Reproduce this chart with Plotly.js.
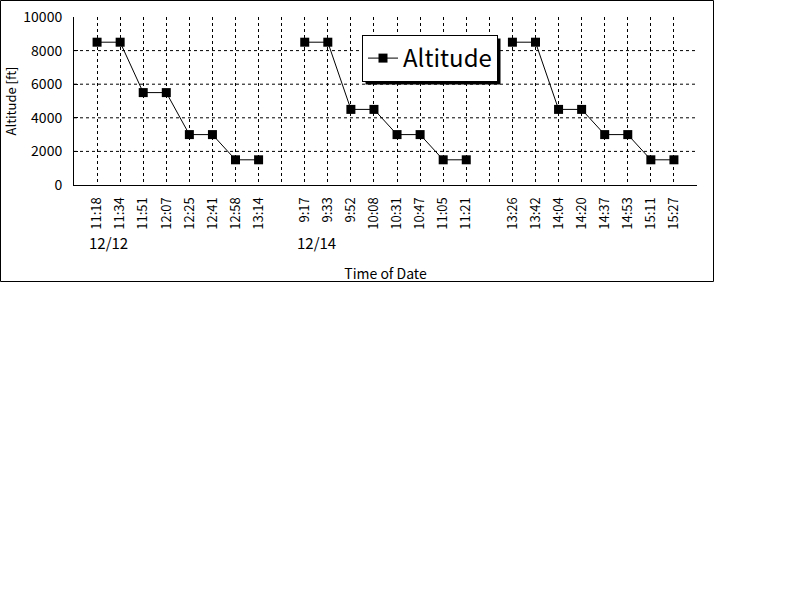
<!DOCTYPE html>
<html>
<head>
<meta charset="utf-8">
<script src="https://cdn.plot.ly/plotly-3.0.1.min.js"></script>
<style>
html,body{margin:0;padding:0;background:#fff;}
#chart{width:800px;height:600px;}
</style>
</head>
<body>
<div id="chart"></div>
<script>
// Category labels (empty strings are the gaps between flight groups)
var timeLabels = ["11:18","11:34","11:51","12:07","12:25","12:41","12:58","13:14","",
                  "9:17","9:33","9:52","10:08","10:31","10:47","11:05","11:21","",
                  "13:26","13:42","14:04","14:20","14:37","14:53","15:11","15:27"];
// Altitude [ft]; null = gap
var altitude = [8500,8500,5500,5500,3000,3000,1500,1500,null,
                8500,8500,4500,4500,3000,3000,1500,1500,null,
                8500,8500,4500,4500,3000,3000,1500,1500];
var dateLabels = ["12/12","12/14"];
var dateStartIndex = [0, 9];
var yTicks = [0,2000,4000,6000,8000,10000];
var yTickText = ["0","2000","4000","6000","8000","10000"];
var yGrid = [2000,4000,6000,8000];

var idx = timeLabels.map(function(_, i){ return i; });

var font = "'MS PGothic','Noto Sans CJK JP','DejaVu Sans',sans-serif";

// plot area geometry (pixels)
var L = 74, R = 697, T = 17, B = 185, W = 800, H = 600;
var pw = R - L, ph = B - T;
function px2x(p){ return (p - L) / pw; }
function px2y(p){ return (B - p) / ph; }

var shapes = [];
// outer chart border
shapes.push({type:'rect', xref:'paper', yref:'paper',
  x0:px2x(0.5), x1:px2x(713.5), y0:px2y(281.5), y1:px2y(0.5),
  line:{color:'#000', width:1}, fillcolor:'rgba(0,0,0,0)', layer:'below'});
// horizontal dashed gridlines
yGrid.forEach(function(v){
  shapes.push({type:'line', xref:'paper', yref:'y', x0:0, x1:1, y0:v, y1:v,
    line:{color:'#000', width:1, dash:'3px,3px'}, layer:'below'});
});

var annotations = dateLabels.map(function(d, k){
  return {text:d, x:dateStartIndex[k], xref:'x', y:px2y(242), yref:'paper',
    xanchor:'left', yanchor:'middle', xshift:-10, showarrow:false,
    font:{family:font, size:15, color:'#000'}};
});

var trace = {
  x: idx, y: altitude, type:'scatter', mode:'lines+markers', name:'Altitude',
  connectgaps:false,
  line:{color:'#000', width:1},
  marker:{symbol:'square', size:9, color:'#000'}
};

var layout = {
  width:W, height:H,
  margin:{l:L, r:W-R, t:T, b:H-B, pad:0},
  paper_bgcolor:'#fff', plot_bgcolor:'#fff',
  font:{family:font, size:13, color:'#000'},
  showlegend:true,
  legend:{x:px2x(362), y:px2y(35), xanchor:'left', yanchor:'top',
    bgcolor:'#fff', bordercolor:'#000', borderwidth:1, tracegroupgap:0,
    font:{family:font, size:24, color:'#000'}, itemwidth:30},
  xaxis:{range:[-1,26], tickmode:'array', tickvals:idx, ticktext:timeLabels,
    tickangle:-90, showgrid:true, gridcolor:'#000', gridwidth:1, griddash:'3px,3px',
    showline:true, linecolor:'#000', linewidth:1, zeroline:false, ticks:'',
    ticklabelstandoff:6, tickfont:{family:font, size:13, color:'#000'},
    title:{text:'Time of Date', font:{family:font, size:14, color:'#000'}, standoff:40},
    fixedrange:true},
  yaxis:{range:[0,10000], tickmode:'array', tickvals:yTicks, ticktext:yTickText,
    showgrid:false, showline:true, linecolor:'#000', linewidth:1, zeroline:false,
    ticks:'inside', ticklen:4, tickcolor:'#000',
    ticklabelstandoff:8, tickfont:{family:font, size:14, color:'#000'},
    title:{text:'Altitude [ft]', font:{family:font, size:13, color:'#000'}, standoff:3},
    fixedrange:true},
  shapes:shapes,
  annotations:annotations
};

Plotly.newPlot('chart', [trace], layout, {displayModeBar:false, staticPlot:true}).then(function(gd){
  // drop shadow behind the legend box, placed from the rendered legend size
  var bg = gd.querySelector('.legend .bg');
  var svgRect = gd.querySelector('.main-svg').getBoundingClientRect();
  if (bg) {
    var r = bg.getBoundingClientRect();
    var x0 = r.left - svgRect.left, y0 = r.top - svgRect.top;
    var x1 = x0 + r.width, y1 = y0 + r.height;
    var s = shapes.slice();
    s.push({type:'rect', xref:'paper', yref:'paper',
      x0:px2x(x0 + 3), x1:px2x(x1 + 3), y0:px2y(y1 + 3), y1:px2y(y0 + 3),
      line:{width:0}, fillcolor:'#000', layer:'above'});
    Plotly.relayout(gd, {shapes:s});
  }
});
</script>
</body>
</html>
